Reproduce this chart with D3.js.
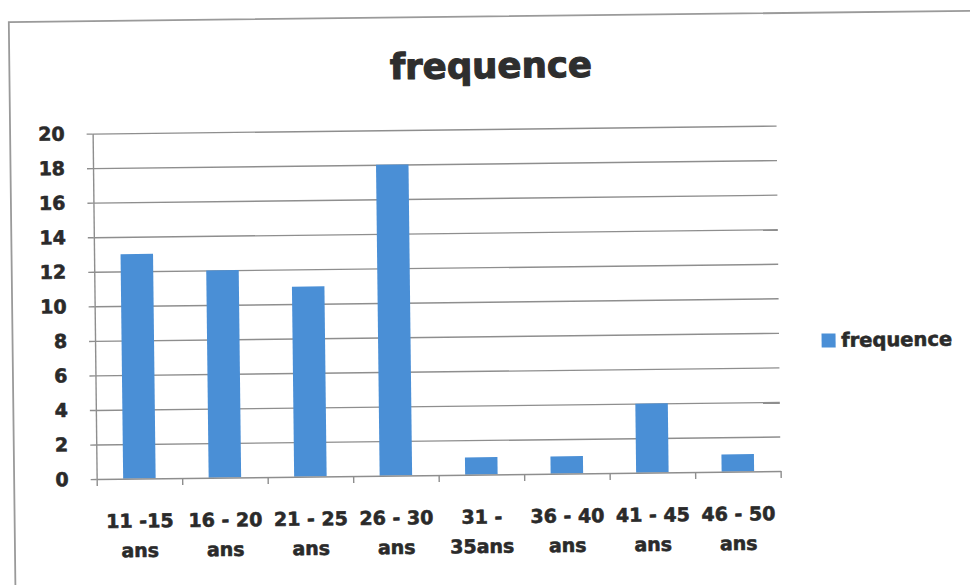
<!DOCTYPE html>
<html>
<head>
<meta charset="utf-8">
<script src="https://cdn.jsdelivr.net/npm/d3@7"></script>
<style>
  html, body { margin: 0; padding: 0; background: #ffffff; }
  svg { display: block; }
</style>
</head>
<body>
<div id="chart"></div>
<script>
// Age groups and their counts
const categories = ["11 -15 ans", "16 - 20 ans", "21 - 25 ans", "26 - 30 ans",
                    "31 - 35ans", "36 - 40 ans", "41 - 45 ans", "46 - 50 ans"];
const values = [13, 12, 11, 18, 1, 1, 4, 1];
const yTicks = [0, 2, 4, 6, 8, 10, 12, 14, 16, 18, 20];
const seriesName = "frequence";
const titleText = "frequence";

const W = 970, H = 585;
const FONT = "'DejaVu Sans', 'Liberation Sans', sans-serif";
const TEXT = "#2a2a2a";
const GRID = "#8e8e8e";
const BAR = "#4a8fd6";

const plot = { left: 94.5, right: 778.5, top: 129, bottom: 474.5 };

const svg = d3.select("#chart").append("svg")
  .attr("width", W).attr("height", H)
  .attr("viewBox", `0 0 ${W} ${H}`);

svg.append("rect").attr("width", W).attr("height", H).attr("fill", "#ffffff");

// the whole sheet sits slightly tilted
const root = svg.append("g").attr("transform", "rotate(-0.67 485 292)");

// heavy bold text helper
function heavy(sel, size, width) {
  sel.attr("fill", TEXT).attr("font-family", FONT)
    .attr("font-weight", "bold").attr("font-size", size)
    .attr("stroke", TEXT).attr("stroke-width", width)
    .attr("stroke-linejoin", "round");
}

// chart frame
root.append("rect")
  .attr("x", 12).attr("y", 16.5)
  .attr("width", 1000).attr("height", 650)
  .attr("fill", "none").attr("stroke", "#9a9a9a").attr("stroke-width", 1.8);

const x = d3.scaleBand(categories, [plot.left, plot.right])
  .paddingInner(0.62).paddingOuter(0.31);
const xEdges = d3.scaleLinear([0, categories.length], [plot.left, plot.right]);
const y = d3.scaleLinear([0, 20], [plot.bottom, plot.top]);

// horizontal gridlines
const grid = root.append("g")
  .attr("transform", `translate(${plot.left},0)`)
  .call(d3.axisLeft(y).tickValues(yTicks.slice(1))
    .tickSize(-(plot.right - plot.left)).tickFormat(""));
grid.select(".domain").remove();
grid.selectAll("line").attr("stroke", GRID).attr("stroke-width", 1.4);

// value axis
const yAxis = root.append("g")
  .attr("transform", `translate(${plot.left},0)`)
  .call(d3.axisLeft(y).tickValues(yTicks).tickSize(6).tickSizeOuter(0).tickPadding(22));
yAxis.select(".domain").attr("stroke", GRID).attr("stroke-width", 1.4);
yAxis.selectAll("line").attr("stroke", GRID).attr("stroke-width", 1.4);
yAxis.selectAll("text").call(heavy, 19, 0.6);

// bars
root.append("g").selectAll("rect")
  .data(categories.map((c, i) => ({ c, v: values[i] })))
  .join("rect")
  .attr("x", d => x(d.c))
  .attr("y", d => y(d.v))
  .attr("width", x.bandwidth())
  .attr("height", d => y(0) - y(d.v))
  .attr("fill", BAR);

// category axis line with boundary ticks
const xTicksAxis = root.append("g")
  .attr("transform", `translate(0,${plot.bottom})`)
  .call(d3.axisBottom(xEdges).ticks(categories.length).tickSize(7)
    .tickSizeOuter(0).tickFormat(""));
xTicksAxis.select(".domain").attr("stroke", GRID).attr("stroke-width", 1.4);
xTicksAxis.selectAll("line").attr("stroke", GRID).attr("stroke-width", 1.4);

// category labels, wrapped on two lines
const xLabels = root.append("g")
  .attr("transform", `translate(0,${plot.bottom})`)
  .call(d3.axisBottom(x).tickSize(0));
xLabels.select(".domain").remove();
xLabels.selectAll("text").each(function (d) {
  const t = d3.select(this);
  const cut = d.lastIndexOf(" ");
  const lines = [d.slice(0, cut), d.slice(cut + 1)];
  t.text(null).attr("y", null).attr("dy", null).call(heavy, 19, 0.6);
  lines.forEach((ln, k) => {
    t.append("tspan").attr("x", 0).attr("y", 49 + k * 29.5).text(ln);
  });
});

// title
root.append("text")
  .attr("x", 493.5).attr("y", 78)
  .attr("text-anchor", "middle")
  .call(heavy, 35.5, 1.1)
  .attr("fill", "#2e2e2e").attr("stroke", "#2e2e2e")
  .text(titleText);

// legend
const legend = root.append("g").attr("transform", "translate(821,337.5)");
legend.append("rect").attr("width", 14).attr("height", 14).attr("fill", BAR);
legend.append("text")
  .attr("x", 19.5).attr("y", 13.5)
  .call(heavy, 19.5, 0.6)
  .text(seriesName);
</script>
</body>
</html>
